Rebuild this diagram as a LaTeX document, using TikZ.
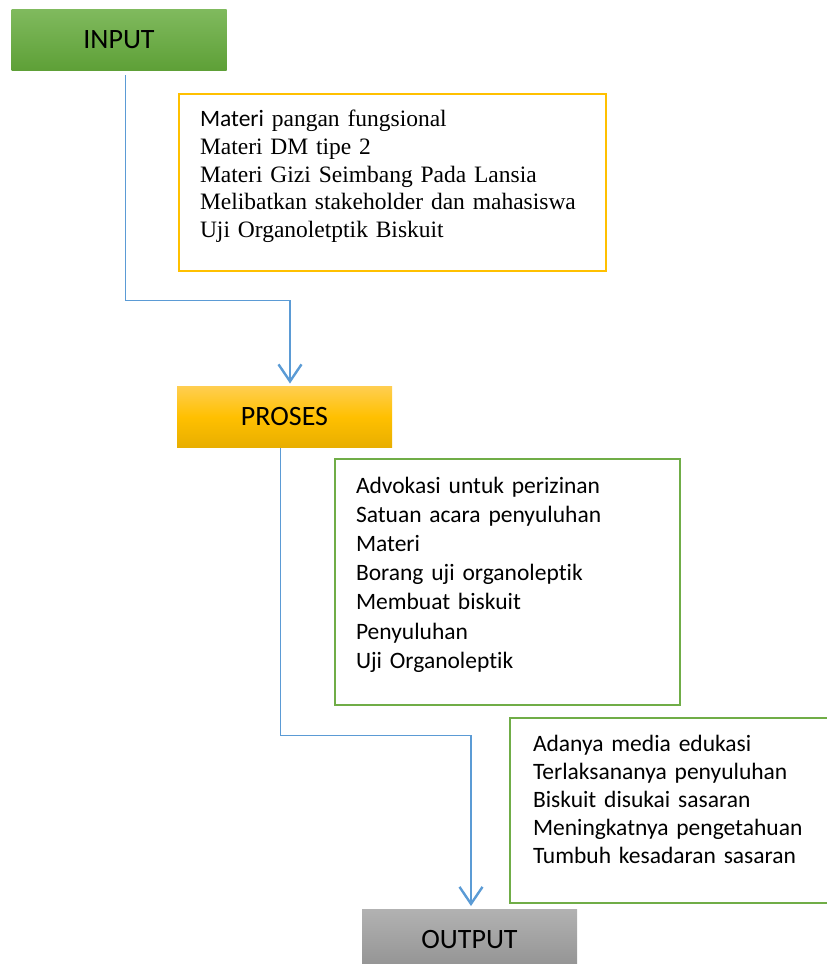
\documentclass[tikz,border=0pt]{standalone}
\usepackage{fontspec}
\setmainfont{Liberation Serif}
\setsansfont{Carlito}[Ligatures=NoCommon]
\usetikzlibrary{arrows.meta}

\definecolor{hijauatas}{RGB}{128,186,94}
\definecolor{hijaubawah}{RGB}{94,160,55}
\definecolor{kuningatas}{RGB}{255,206,80}
\definecolor{kuningbawah}{RGB}{232,174,0}
\definecolor{abuatas}{RGB}{178,178,178}
\definecolor{abubawah}{RGB}{146,146,146}
\definecolor{emas}{RGB}{255,192,0}
\definecolor{hijaugaris}{RGB}{112,173,71}
\definecolor{biru}{RGB}{91,155,213}

\begin{document}
\begin{tikzpicture}[x=1pt, y=-1pt,
    kepala/.style={minimum width=215pt, minimum height=61pt,
        inner sep=0pt, outer sep=0pt,
        font=\sffamily\fontsize{28}{32}\selectfont},
    daftar/.style={draw, line width=2pt, anchor=north west,
        inner xsep=21pt, inner ysep=0pt, align=left},
    isiserif/.style={font=\rmfamily\fontsize{23.5}{27.75}\selectfont},
    isisans/.style={font=\sffamily\fontsize{23.5}{29.2}\selectfont},
    garis/.style={draw=biru, line width=1pt},
    panah/.style={draw=biru, line width=2.4pt,
        -{Straight Barb[length=17pt,width=23pt]}, shorten >=3pt},
    ]
    \useasboundingbox (0,0) rectangle (827,964);
    \clip (0,0) rectangle (827,964);

    \node[kepala, top color=hijauatas, bottom color=hijaubawah] (input) at (119,39.5) {INPUT};
    \node[kepala, top color=kuningatas, bottom color=kuningbawah, middle color=emas] (proses) at (284.5,417) {PROSES};
    \node[kepala, top color=abuatas, bottom color=abubawah] (output) at (469.5,939.5) {OUTPUT};

    \node[daftar, isiserif, draw=emas, text width=385pt,
        text height=32.7pt, text depth=144.3pt] (masukan) at (178,93)
        {{\sffamily Materi} pangan fungsional\\
         Materi DM tipe 2\\
         Materi Gizi Seimbang Pada Lansia\\
         Melibatkan stakeholder dan mahasiswa\\
         Uji Organoletptik Biskuit};
    \node[daftar, isisans, draw=hijaugaris, text width=303pt,
        text height=34pt, text depth=212pt] (kegiatan) at (334,458)
        {Advokasi untuk perizinan\\
         Satuan acara penyuluhan\\
         Materi\\
         Borang uji organoleptik\\
         Membuat biskuit\\
         Penyuluhan\\
         Uji Organoleptik};
    \node[daftar, isisans, draw=hijaugaris, inner xsep=23pt, text width=300pt,
        text height=33pt, text depth=152pt, font=\sffamily\fontsize{23.5}{28}\selectfont] (hasil) at (509,717)
        {Adanya media edukasi\\
         Terlaksananya penyuluhan\\
         Biskuit disukai sasaran\\
         Meningkatnya pengetahuan\\
         Tumbuh kesadaran sasaran};

    \coordinate (tekuk1) at (125,300);
    \coordinate (tekuk2) at (290,300);
    \coordinate (tekuk3) at (280,735);
    \coordinate (tekuk4) at (471,735);

    \draw[garis, shorten <=5pt] (input.south -| tekuk1) -- (tekuk1) -- (tekuk2);
    \draw[panah] (tekuk2) -- (proses.north -| tekuk2);
    \draw[garis] (proses.south -| tekuk3) -- (tekuk3) -- (tekuk4);
    \draw[panah] (tekuk4) -- (output.north -| tekuk4);
\end{tikzpicture}
\end{document}
